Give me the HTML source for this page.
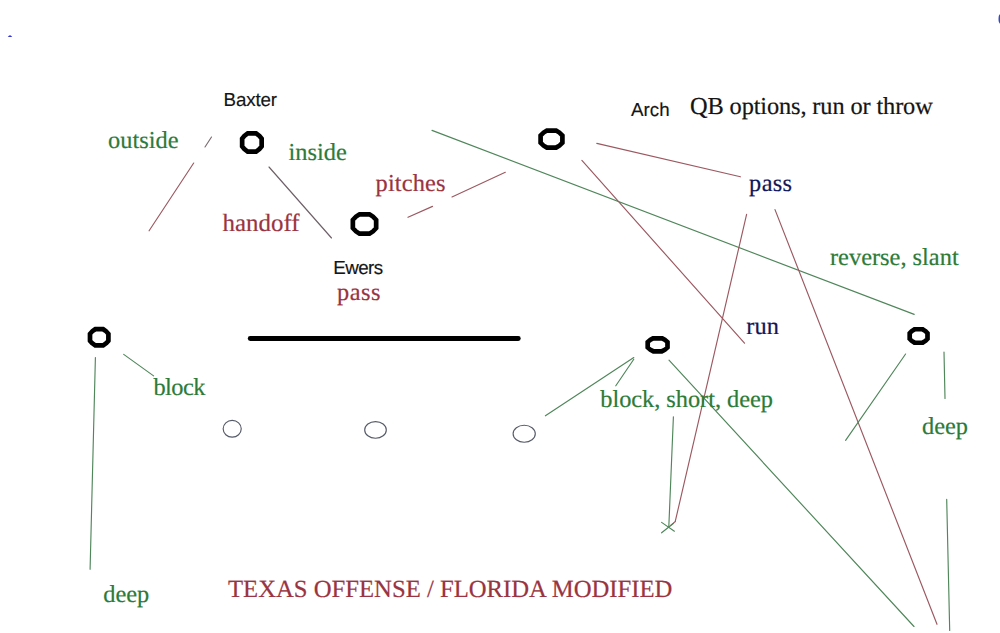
<!DOCTYPE html>
<html><head><meta charset="utf-8">
<style>
html,body{margin:0;padding:0;background:#fff;width:1000px;height:633px;overflow:hidden}
svg{position:absolute;left:0;top:0}
text{text-rendering:geometricPrecision}
.s{font-family:"Liberation Serif",serif;font-size:24.4px;stroke-width:0.2px}
.a{font-family:"Liberation Sans",sans-serif;font-size:18.8px;fill:#151515;stroke:#151515;stroke-width:0.15px}
.g{fill:#2c7b38;stroke:#2c7b38}
.r{fill:#9a3441;stroke:#9a3441}
.b{fill:#161656;stroke:#161656}
.k{fill:#151515;stroke:#151515}
.lr{stroke:#9c5860}
.lg{stroke:#4f865a}
</style></head><body>
<svg width="1000" height="633" viewBox="0 0 1000 633">
<!-- blue specks -->
<path d="M7.8 37 Q10 33.6 12.2 37 Z" fill="#3535d0"/>
<ellipse cx="1001" cy="19" rx="2.5" ry="5" fill="#3a4aa8"/>

<!-- thin lines -->
<g fill="none" stroke-width="1.15" stroke-linecap="round">
  <line x1="205" y1="147" x2="211.5" y2="137" stroke="#7a6a70"/>
  <line class="lr" x1="193.7" y1="163" x2="149.1" y2="230.8"/>
  <line x1="269" y1="167" x2="331.5" y2="238" stroke="#6e6068"/>
  <line class="lr" x1="408" y1="217.3" x2="432.5" y2="206.4"/>
  <line class="lr" x1="452" y1="197" x2="505.3" y2="172.3"/>
  <line class="lg" x1="432" y1="130.4" x2="914.2" y2="314.4"/>
  <line class="lr" x1="596.8" y1="143.4" x2="740.4" y2="176.8"/>
  <line class="lr" x1="581.9" y1="160.4" x2="744.5" y2="343.2"/>
  <line class="lr" x1="746.6" y1="214.4" x2="675.2" y2="521.6"/>
  <line class="lr" x1="675.2" y1="521.6" x2="670.4" y2="525.6"/>
  <line class="lr" x1="775" y1="209.6" x2="937" y2="624.3"/>
  <line class="lg" x1="905.6" y1="354" x2="845.6" y2="440.4"/>
  <line class="lg" x1="944" y1="352" x2="945" y2="398.4"/>
  <line class="lg" x1="946.7" y1="499.4" x2="949.7" y2="630.4"/>
  <line class="lg" x1="669" y1="360.2" x2="914" y2="626.5"/>
  <line class="lg" x1="673.4" y1="416.8" x2="668.8" y2="527.2"/>
  <line class="lg" x1="661.6" y1="522.4" x2="674.4" y2="531.2"/>
  <line class="lg" x1="661.6" y1="532.8" x2="673.6" y2="523.2"/>
  <line class="lg" x1="545.4" y1="415.8" x2="633.8" y2="357.6"/>
  <line class="lg" x1="615.8" y1="385.8" x2="633.8" y2="359.2"/>
  <line class="lg" x1="123.7" y1="354.4" x2="153.6" y2="375.9"/>
  <line class="lg" x1="95.4" y1="357.6" x2="90.1" y2="569.3"/>
</g>

<!-- thick line -->
<line x1="250.2" y1="338.5" x2="518.3" y2="338.5" stroke="#000" stroke-width="4.8" stroke-linecap="round"/>

<!-- player circles (MS Paint octagons) -->
<g fill="#000" stroke="#000" stroke-width="2" stroke-linejoin="round">
<path fill-rule="evenodd" d="M247.24 132.00 L256.56 132.00 L260.11 134.73 L263.00 138.09 L263.00 146.91 L260.11 150.27 L256.56 153.00 L247.24 153.00 L243.69 150.27 L240.80 146.91 L240.80 138.09 L243.69 134.73 Z M248.12 134.70 L255.68 134.70 L258.28 136.57 L260.30 138.99 L260.30 146.01 L258.28 148.43 L255.68 150.30 L248.12 150.30 L245.52 148.43 L243.50 146.01 L243.50 138.99 L245.52 136.57 Z"/>
<path fill-rule="evenodd" d="M359.04 213.00 L369.96 213.00 L374.12 215.86 L377.50 219.38 L377.50 228.62 L374.12 232.14 L369.96 235.00 L359.04 235.00 L354.88 232.14 L351.50 228.62 L351.50 219.38 L354.88 215.86 Z M359.87 215.70 L369.13 215.70 L372.33 217.69 L374.80 220.26 L374.80 227.74 L372.33 230.31 L369.13 232.30 L359.87 232.30 L356.67 230.31 L354.20 227.74 L354.20 220.26 L356.67 217.69 Z"/>
<path fill-rule="evenodd" d="M546.36 129.30 L556.64 129.30 L560.57 131.85 L563.75 134.98 L563.75 143.22 L560.57 146.35 L556.64 148.90 L546.36 148.90 L542.43 146.35 L539.25 143.22 L539.25 134.98 L542.43 131.85 Z M547.20 132.00 L555.80 132.00 L558.76 133.70 L561.05 135.91 L561.05 142.29 L558.76 144.50 L555.80 146.20 L547.20 146.20 L544.24 144.50 L541.95 142.29 L541.95 135.91 L544.24 133.70 Z"/>
<path fill-rule="evenodd" d="M94.77 327.85 L103.63 327.85 L107.01 330.31 L109.75 333.33 L109.75 341.27 L107.01 344.29 L103.63 346.75 L94.77 346.75 L91.39 344.29 L88.65 341.27 L88.65 333.33 L91.39 330.31 Z M95.67 330.55 L102.73 330.55 L105.17 332.17 L107.05 334.26 L107.05 340.34 L105.17 342.43 L102.73 344.05 L95.67 344.05 L93.23 342.43 L91.35 340.34 L91.35 334.26 L93.23 332.17 Z"/>
<path fill-rule="evenodd" d="M652.88 336.95 L662.33 336.95 L665.93 338.99 L668.85 341.50 L668.85 348.10 L665.93 350.61 L662.33 352.65 L652.88 352.65 L649.27 350.61 L646.35 348.10 L646.35 341.50 L649.27 338.99 Z M653.75 339.65 L661.45 339.65 L664.10 340.89 L666.15 342.48 L666.15 347.12 L664.10 348.71 L661.45 349.95 L653.75 349.95 L651.10 348.71 L649.05 347.12 L649.05 342.48 L651.10 340.89 Z"/>
<path fill-rule="evenodd" d="M914.30 327.90 L922.90 327.90 L926.19 330.01 L928.85 332.60 L928.85 339.40 L926.19 341.99 L922.90 344.10 L914.30 344.10 L911.01 341.99 L908.35 339.40 L908.35 332.60 L911.01 330.01 Z M915.20 330.60 L922.00 330.60 L924.34 331.90 L926.15 333.57 L926.15 338.43 L924.34 340.10 L922.00 341.40 L915.20 341.40 L912.86 340.10 L911.05 338.43 L911.05 333.57 L912.86 331.90 Z"/>
</g>
<g fill="none" stroke="#555a68" stroke-width="1.15">
  <ellipse cx="232.2" cy="428.8" rx="9.05" ry="8.4"/>
  <ellipse cx="375.5" cy="429.9" rx="10.8" ry="8.35"/>
  <ellipse cx="524.2" cy="433.7" rx="11.1" ry="8.5"/>
</g>

<!-- serif text -->
<text class="s g" x="108" y="148">outside</text>
<text class="s g" x="288.5" y="160">inside</text>
<text class="s r" x="222.6" y="231.2" style="font-size:24.9px">handoff</text>
<text class="s r" x="375.6" y="190.9" textLength="69.8" lengthAdjust="spacing">pitches</text>
<text class="s r" x="337" y="299.9" textLength="43.4" lengthAdjust="spacing">pass</text>
<text class="s k" x="690" y="114.3" textLength="242.8" lengthAdjust="spacing">QB options, run or throw</text>
<text class="s b" x="749.1" y="190.9" textLength="43" lengthAdjust="spacing">pass</text>
<text class="s g" x="830" y="265.2">reverse, slant</text>
<text class="s b" x="746.2" y="333.6" textLength="32.8" lengthAdjust="spacing">run</text>
<text class="s g" x="153.4" y="394.8" textLength="52" lengthAdjust="spacing">block</text>
<text class="s g" x="600.3" y="406.8" textLength="172.6" lengthAdjust="spacing">block, short, deep</text>
<text class="s g" x="922" y="433.6">deep</text>
<text class="s g" x="103.2" y="602.1">deep</text>
<text class="s r" x="228" y="596.6" style="font-size:24.7px">TEXAS OFFENSE / FLORIDA MODIFIED</text>

<!-- sans labels -->
<text class="a" x="223.6" y="106" style="letter-spacing:-0.15px">Baxter</text>
<text class="a" x="333.3" y="274.1" style="letter-spacing:-0.6px">Ewers</text>
<text class="a" x="631" y="116">Arch</text>
</svg>
</body></html>
